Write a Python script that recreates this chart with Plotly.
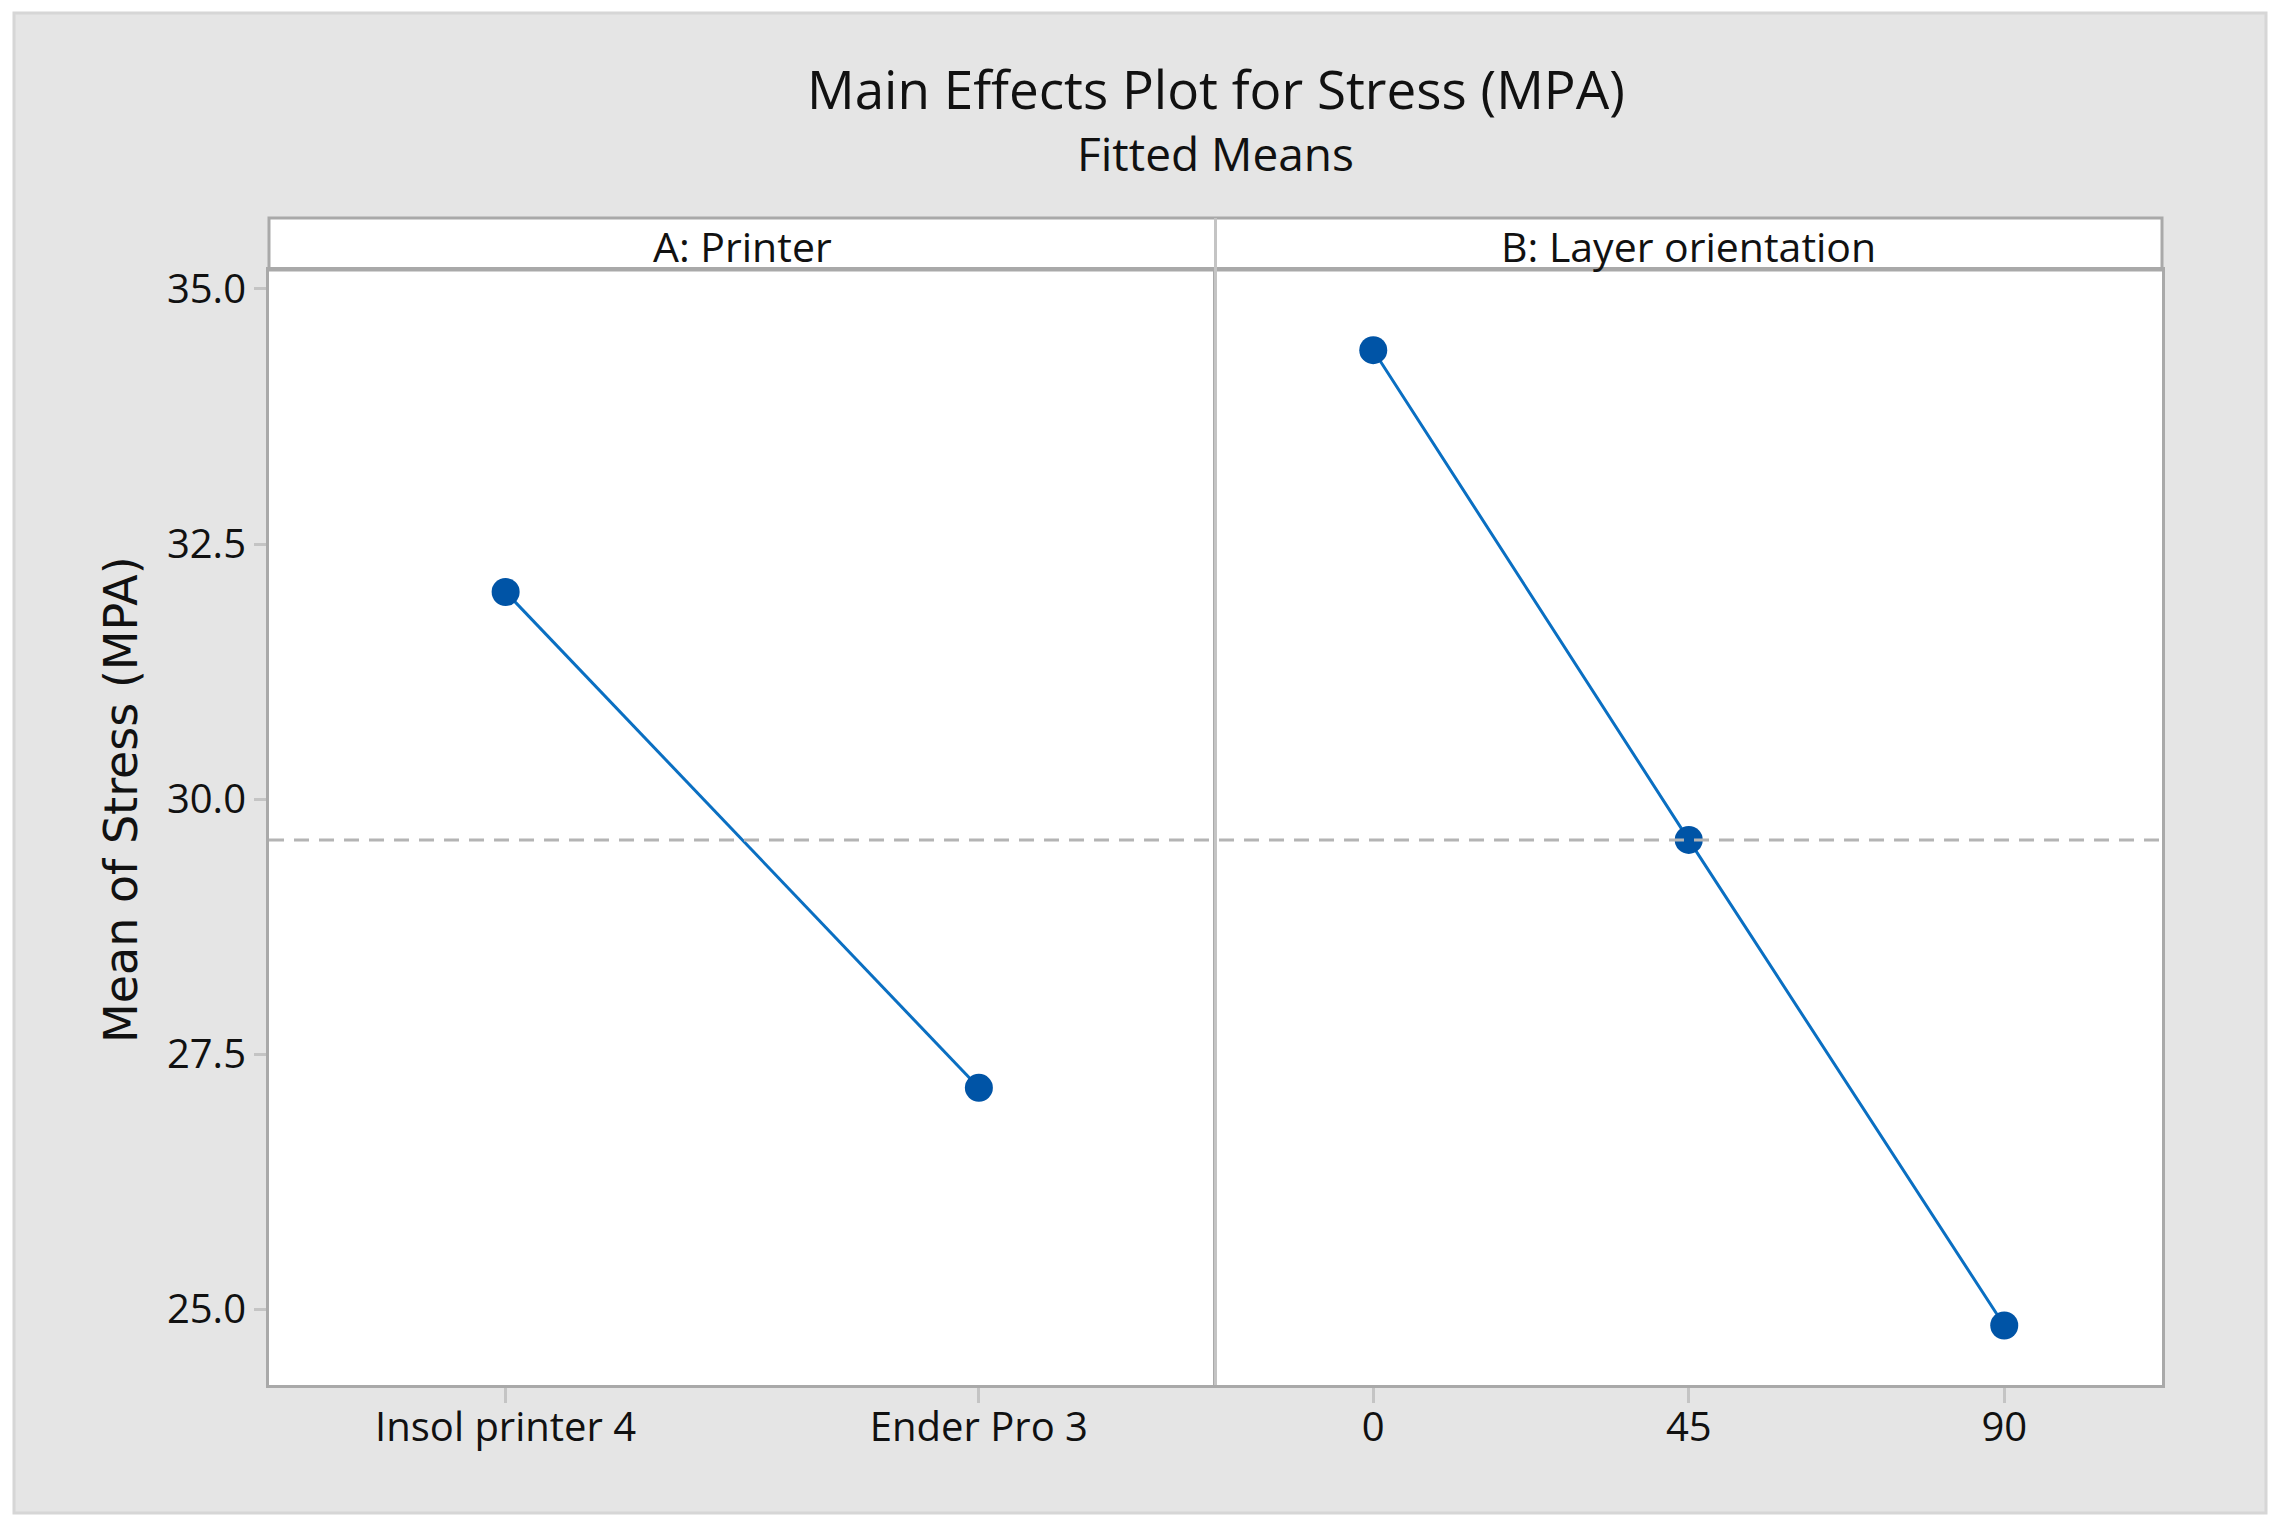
import plotly.graph_objects as go

# main effects (fitted means)
printer_levels = ["Insol printer 4", "Ender Pro 3"]
printer_means = [32.03, 27.17]
orient_levels = ["0", "45", "90"]
orient_means = [34.40, 29.60, 24.84]
y_ticks = [25.0, 27.5, 30.0, 32.5, 35.0]

grand_mean = sum(printer_means) / len(printer_means)

# page body has an 8px margin, so the figure is shifted by that much
OFF = 8
W, H = 2281 - 2 * OFF, 1528 - 2 * OFF
ML, MT = 269 - OFF, 218 - OFF
MR = W - (2162 - OFF)
MB = H - (1385 - OFF)
PW = W - ML - MR
PH = H - MT - MB
strip_h = 52
ydom = (PH - strip_h) / PH

line_color = "#0a6fc2"
marker_color = "#0054a6"
frame_color = "#a9a9a9"
divider_color = "#c4c4c4"
bg_gray = "#e5e5e5"
font_main = "Open Sans"
text_color = "#111111"


def px_x(p):
    # screenshot pixel -> paper x
    return (p - OFF - ML) / PW


def px_y(p):
    # screenshot pixel -> paper y
    return (H - MB - (p - OFF)) / PH


fig = go.Figure()

fig.add_trace(go.Scatter(
    x=printer_levels, y=printer_means,
    mode="lines+markers",
    line=dict(color=line_color, width=3),
    marker=dict(color=marker_color, size=28),
    xaxis="x", yaxis="y",
    showlegend=False,
))
fig.add_trace(go.Scatter(
    x=orient_levels, y=orient_means,
    mode="lines+markers",
    line=dict(color=line_color, width=3),
    marker=dict(color=marker_color, size=28),
    xaxis="x2", yaxis="y2",
    showlegend=False,
))

axis_common = dict(
    type="category",
    showgrid=False,
    zeroline=False,
    showline=True,
    linecolor=frame_color,
    linewidth=3,
    mirror=True,
    ticks="outside",
    ticklen=15,
    tickwidth=3,
    tickcolor=divider_color,
    ticklabelstandoff=-10,
    tickfont=dict(family=font_main, size=40, color=text_color),
)

shapes = [
    # grey card behind everything
    dict(type="rect", xref="paper", yref="paper", layer="below",
         x0=px_x(14), x1=px_x(2266), y0=px_y(1513), y1=px_y(13),
         fillcolor=bg_gray, line=dict(color="#d6d6d6", width=3)),
    # white plotting area
    dict(type="rect", xref="paper", yref="paper", layer="below",
         x0=0, x1=1, y0=0, y1=1,
         fillcolor="white", line=dict(width=0)),
    # strip header frame
    dict(type="rect", xref="paper", yref="paper",
         x0=0, x1=1, y0=ydom, y1=1,
         fillcolor="rgba(0,0,0,0)", line=dict(color=frame_color, width=3)),
    # panel divider
    dict(type="line", xref="paper", yref="paper",
         x0=0.5, x1=0.5, y0=0, y1=1,
         line=dict(color=divider_color, width=3)),
    # grand mean reference line
    dict(type="line", xref="paper", yref="y",
         x0=0, x1=1, y0=grand_mean, y1=grand_mean,
         line=dict(color="#b4b4b4", width=3, dash="15px,10px")),
]


def label(text, x, y, size, family=font_main, angle=0):
    return dict(text=text, x=x, y=y, xref="paper", yref="paper",
                xanchor="center", yanchor="middle", showarrow=False,
                textangle=angle,
                font=dict(family=family, size=size, color=text_color))


annotations = [
    label("Main Effects Plot for Stress (MPA)", 0.5, px_y(88), 53),
    label("Fitted Means", 0.5, px_y(153), 46),
    label("A: Printer", 0.25, px_y(246), 41),
    label("B: Layer orientation", 0.75, px_y(246), 41),
    label("Mean of Stress (MPA)", px_x(121), px_y(800), 46,
          family="DejaVu Sans", angle=-90),
]

yr = [24.257, 35.186]

fig.update_layout(
    width=W, height=H,
    margin=dict(l=ML, r=MR, t=MT, b=MB, pad=0),
    paper_bgcolor="white",
    plot_bgcolor="rgba(0,0,0,0)",
    xaxis=dict(domain=[0, 0.5], range=[-0.5, 1.5], anchor="y", **axis_common),
    xaxis2=dict(domain=[0.5, 1], range=[-0.5, 2.5], anchor="y2", **axis_common),
    yaxis=dict(domain=[0, ydom], range=yr, anchor="x",
               tickvals=y_ticks, ticktext=["%.1f" % v for v in y_ticks],
               showgrid=False, zeroline=False, showline=True, mirror=False,
               linecolor=frame_color, linewidth=3,
               ticks="outside", ticklen=12, tickwidth=3, tickcolor=divider_color,
               tickfont=dict(family=font_main, size=40, color=text_color)),
    yaxis2=dict(domain=[0, ydom], range=yr, anchor="x2", matches="y",
                showticklabels=False, ticks="",
                showgrid=False, zeroline=False, showline=True, mirror=True,
                linecolor=frame_color, linewidth=3),
    shapes=shapes,
    annotations=annotations,
)

fig.write_html("out.html")
